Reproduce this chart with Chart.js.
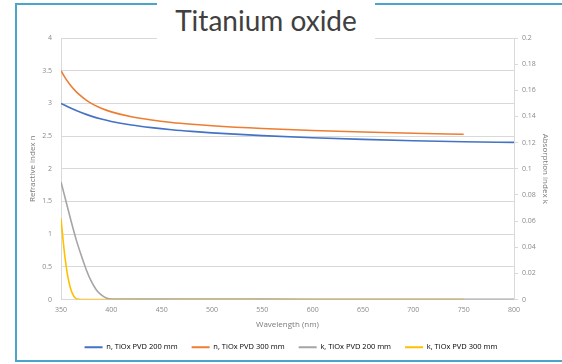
<!DOCTYPE html>
<html>
<head>
<meta charset="utf-8">
<script src="https://cdn.jsdelivr.net/npm/chart.js@4/dist/chart.umd.min.js"></script>
<style>
  html, body { margin: 0; padding: 0; background: #fff; overflow: hidden; }
  #wrap { position: relative; width: 562px; height: 364px; overflow: hidden; }
  .edge { position: absolute; background: #4aa6c9; }
  #edgeTop { left: 15px; top: 3px; width: 547px; height: 2px; }
  #edgeLeft { left: 15px; top: 3px; width: 2px; height: 359px; }
  #edgeBottom { left: 15px; top: 360px; width: 547px; height: 2px; }
  #chart { position: absolute; left: 0; top: 0; }
  #title { position: absolute; left: 157px; top: 0; width: 218px; height: 41px; background: #fff;
           font-family: Lato, "Open Sans", sans-serif; font-size: 28px; color: #404040;
           text-align: center; line-height: 40px; }
</style>
</head>
<body>
<div id="wrap">
  <div class="edge" id="edgeTop"></div>
  <div class="edge" id="edgeLeft"></div>
  <div class="edge" id="edgeBottom"></div>
  <canvas id="chart" width="562" height="364"></canvas>
  <div id="title">Titanium oxide</div>
</div>
<script>
// Refractive index n, TiOx PVD 200 mm
const wl200 = [350, 360, 370, 380, 390, 400, 420, 440, 460, 480, 500, 550, 600, 650, 700, 750, 800];
const n200  = [3.000, 2.925, 2.860, 2.805, 2.760, 2.723, 2.669, 2.629, 2.597, 2.571, 2.549, 2.506, 2.474, 2.449, 2.429, 2.414, 2.403];

// Refractive index n, TiOx PVD 300 mm
const wl300 = [350, 355, 360, 365, 370, 375, 380, 390, 400, 420, 440, 460, 480, 500, 550, 600, 650, 700, 750];
const n300  = [3.500, 3.370, 3.265, 3.180, 3.110, 3.050, 3.000, 2.925, 2.870, 2.795, 2.745, 2.708, 2.680, 2.657, 2.615, 2.585, 2.562, 2.543, 2.527];

// Absorption index k, TiOx PVD 200 mm
const wlK200 = [350, 355, 360, 365, 370, 375, 380, 385, 390, 395, 400, 450, 500, 550, 600, 650, 700, 750, 800];
const k200   = [0.090, 0.075, 0.060, 0.046, 0.034, 0.023, 0.014, 0.0075, 0.0035, 0.0012, 0.0004, 0.0003, 0.0004, 0.0003, 0.0002, 0.0001, 0.0001, 0.0001, 0.0001];

// Absorption index k, TiOx PVD 300 mm
const wlK300 = [350, 352, 354, 356, 358, 360, 362, 364, 366, 370, 400, 500, 600, 700, 750];
const k300   = [0.062, 0.046, 0.032, 0.021, 0.013, 0.0072, 0.0035, 0.0013, 0.0003, 0, 0, 0, 0, 0, 0];

// Axis ticks
const xTicks = [350, 400, 450, 500, 550, 600, 650, 700, 750, 800];
const nTicks = [0, 0.5, 1, 1.5, 2, 2.5, 3, 3.5, 4];
const kTicks = [0, 0.02, 0.04, 0.06, 0.08, 0.1, 0.12, 0.14, 0.16, 0.18, 0.2];

const seriesNames = ['n, TiOx PVD 200 mm', 'n, TiOx PVD 300 mm', 'k, TiOx PVD 200 mm', 'k, TiOx PVD 300 mm'];
const seriesColors = ['#4472C4', '#ED7D31', '#A5A5A5', '#FFC000'];

const pts = (xs, ys) => xs.map((x, i) => ({ x: x, y: ys[i] }));

const tickFont = { family: '"Open Sans", sans-serif', size: 7 };
const legendFont = { family: '"Open Sans", sans-serif', size: 7.5 };
const titleFont = { family: '"Open Sans", sans-serif', size: 8 };
const tickColor = '#8a8a8a';
const axisTitleColor = '#7a7a7a';
const gridColor = '#d9d9d9';
const plain = (v) => String(v);

const ds = (i, xs, ys, axis) => ({
  label: seriesNames[i],
  data: pts(xs, ys),
  yAxisID: axis,
  borderColor: seriesColors[i],
  backgroundColor: seriesColors[i],
  borderWidth: 1.6,
  pointRadius: 0,
  cubicInterpolationMode: 'monotone',
  fill: false
});

new Chart(document.getElementById('chart'), {
  type: 'line',
  data: {
    datasets: [
      ds(0, wl200, n200, 'yN'),
      ds(1, wl300, n300, 'yN'),
      ds(2, wlK200, k200, 'yK'),
      ds(3, wlK300, k300, 'yK')
    ]
  },
  options: {
    responsive: false,
    animation: false,
    devicePixelRatio: 1,
    layout: { padding: { top: 38, left: 20, right: 0, bottom: 3 } },
    plugins: {
      title: { display: false },
      tooltip: { enabled: false },
      legend: {
        position: 'bottom',
        labels: {
          font: legendFont,
          color: '#595959',
          boxWidth: 18,
          boxHeight: 2,
          padding: 14,
          generateLabels: (chart) => chart.data.datasets.map((d, i) => ({
            text: d.label,
            fillStyle: d.borderColor,
            strokeStyle: d.borderColor,
            lineWidth: 0,
            datasetIndex: i,
            hidden: false
          }))
        }
      }
    },
    scales: {
      x: {
        type: 'linear',
        min: 350,
        max: 800,
        afterBuildTicks: (s) => { s.ticks = xTicks.map(v => ({ value: v })); },
        afterFit: (s) => { s.height = 30; },
        ticks: { font: tickFont, color: tickColor, maxRotation: 0, padding: 6, callback: plain },
        grid: { display: false, drawTicks: false },
        border: { display: true, color: gridColor, width: 1 },
        title: { display: true, text: 'Wavelength (nm)', font: titleFont, color: axisTitleColor, padding: 0 }
      },
      yN: {
        type: 'linear',
        position: 'left',
        min: 0,
        max: 4,
        afterBuildTicks: (s) => { s.ticks = nTicks.map(v => ({ value: v })); },
        afterFit: (s) => { s.width = 41; },
        ticks: { font: tickFont, color: tickColor, padding: 9, callback: plain },
        grid: { color: gridColor, lineWidth: 1, drawTicks: false },
        border: { display: true, color: gridColor, width: 1 },
        title: { display: true, text: 'Refractive index n', font: titleFont, color: axisTitleColor, padding: { top: 8, bottom: 0 } }
      },
      yK: {
        type: 'linear',
        position: 'right',
        min: 0,
        max: 0.2,
        afterBuildTicks: (s) => { s.ticks = kTicks.map(v => ({ value: v })); },
        afterFit: (s) => { s.width = 48; },
        ticks: { font: tickFont, color: tickColor, padding: 4, callback: plain },
        grid: { drawOnChartArea: false, drawTicks: true, tickLength: 4, color: gridColor },
        border: { display: true, color: gridColor, width: 1 },
        title: { display: true, text: 'Absorption index k', font: titleFont, color: axisTitleColor, padding: { top: 12, bottom: 0 } }
      }
    }
  }
});
</script>
</body>
</html>
